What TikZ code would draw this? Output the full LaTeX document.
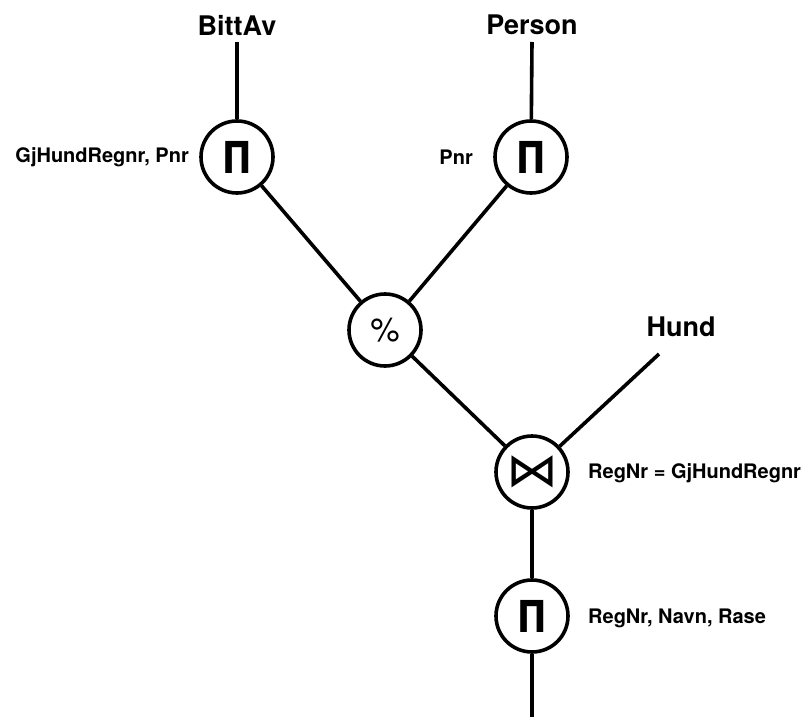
\documentclass[tikz,border=0pt]{standalone}
\usepackage{fontspec}
\setmainfont{TeX Gyre Heros}
\newfontfamily\symfont{DejaVu Sans}
\begin{document}
\begin{tikzpicture}[x=1pt,y=-1pt,
  op/.style={circle,draw,line width=3.6pt,minimum size=72pt,inner sep=0pt},
  rel/.style={font=\fontsize{27}{30}\selectfont\bfseries,inner sep=0pt},
  lab/.style={font=\fontsize{20}{24}\selectfont\bfseries,inner sep=0pt},
  pisym/.style={font=\symfont\fontsize{44}{44}\selectfont\bfseries},
  edge/.style={line width=3.6pt}]
\useasboundingbox (0,0) rectangle (809,717);
\node[rel] (bittav) at (237,25) {BittAv};
\node[rel] (person) at (532,25) {Person};
\node[rel] (hund) at (681,327) {Hund};
\node[op,pisym] (pl) at (237,157) {\scalebox{0.8}[1]{Π}};
\node[op,pisym] (pr) at (531,157) {\scalebox{0.8}[1]{Π}};
\node[op] (div) at (385,330) {\fontsize{33}{33}\selectfont \%};
\node[op] (join) at (532,472) {\symfont\fontsize{52}{52}\selectfont\scalebox{1}[0.9]{⋈}};
\node[op,pisym] (pb) at (532,616) {\scalebox{0.8}[1]{Π}};
\node[lab,anchor=east] (lpl) at (189,157) {GjHundRegnr, Pnr};
\node[lab,anchor=east] (lpr) at (473,157) {Pnr};
\node[lab,anchor=west] (ljoin) at (588,473) {RegNr = GjHundRegnr};
\node[lab,anchor=west] (lpb) at (588,618) {RegNr, Navn, Rase};
\coordinate (ltop) at (237,42);
\coordinate (rtop) at (532,42);
\coordinate (hend) at (659,354);
\coordinate (bot) at (532,717);
\draw[edge] (ltop) -- (pl);
\draw[edge] (rtop) -- (pr);
\draw[edge] (pl) -- (div);
\draw[edge] (pr) -- (div);
\draw[edge] (div) -- (join);
\draw[edge] (hend) -- (join);
\draw[edge] (join) -- (pb);
\draw[edge] (pb) -- (bot);
\end{tikzpicture}
\end{document}
